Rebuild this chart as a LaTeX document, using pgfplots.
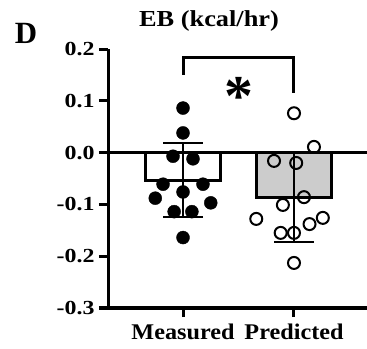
\documentclass[border=0pt]{standalone}
\usepackage{fontspec}
\setmainfont{Liberation Serif}
\usepackage{graphicx}
\usepackage{pgfplots}
\pgfplotsset{compat=1.18}
\begin{document}
\begin{tikzpicture}
\path[use as bounding box] (0,0) rectangle (367bp,349bp);
\node[font=\fontsize{31}{31}\selectfont\bfseries] at (26bp,316bp) {D};
\node[anchor=base, font=\fontsize{23}{23}\selectfont\bfseries] at (209bp,322bp) {\scalebox{1.15}[1]{EB (kcal/hr)}};
\begin{axis}[
  at={(108bp,41bp)}, anchor=south west,
  scale only axis, width=259bp, height=259bp,
  xmin=-0.676, xmax=1.658, ymin=-0.3, ymax=0.2,
  clip=false,
  axis x line=bottom, axis y line=left,
  axis line style={-, line width=3bp},
  tick align=outside, major tick length=9bp,
  tick style={line width=3bp, black},
  ytick={-0.3,-0.2,-0.1,0,0.1,0.2},
  yticklabels={\scalebox{1.2}[1]{-0.3},\scalebox{1.2}[1]{-0.2},\scalebox{1.2}[1]{-0.1},\scalebox{1.2}[1]{0.0},\scalebox{1.2}[1]{0.1},\scalebox{1.2}[1]{0.2}},
  yticklabel style={font=\fontsize{20}{20}\selectfont\bfseries, xshift=-1bp},
  xtick={0,1},
  xticklabels={\scalebox{1.08}[1]{Measured},\scalebox{1.08}[1]{Predicted}},
  xticklabel style={font=\fontsize{22.5}{22.5}\selectfont\bfseries, yshift=-3bp},
]
% bars
\addplot[ybar, bar shift=0pt, bar width=0.68, fill=white, draw=black, line width=3bp,
  error bars/.cd, y dir=both, y explicit,
  error bar style={line width=2bp, black},
  error mark options={rotate=90, mark size=20bp, line width=2bp, black}]
  coordinates {(0,-0.053) +- (0,0.071)};
\addplot[ybar, bar shift=0pt, bar width=0.68, fill=black!20, draw=black, line width=3bp,
  error bars/.cd, y dir=both, y explicit,
  error bar style={line width=2bp, black},
  error mark options={rotate=90, mark size=20bp, line width=2bp, black}]
  coordinates {(1,-0.086) +- (0,0.087)};
% zero line
\addplot[black, line width=3bp] coordinates {(-0.676,0) (1.658,0)};
% measured points
\addplot[only marks, mark=*, mark size=6.5bp, black] coordinates {
(0,0.086) (0,0.038) (-0.09,-0.007) (0.09,-0.012) (-0.18,-0.061) (0.18,-0.061)
(0,-0.076) (-0.25,-0.088) (0.25,-0.097) (-0.08,-0.114) (0.08,-0.114) (0,-0.164)};
% predicted points
\addplot[only marks, mark=o, mark size=6bp, line width=2bp, black] coordinates {
(1,0.076) (1.18,0.011) (0.82,-0.016) (1.02,-0.020) (1.09,-0.086) (0.90,-0.101)
(0.66,-0.128) (1.26,-0.126) (1.14,-0.138) (0.88,-0.155) (1.0,-0.155) (1.0,-0.213)};
% significance bracket
\addplot[black, line width=3bp] coordinates {(0,0.15) (0,0.183) (1,0.183) (1,0.115)};
\node[font=\fontsize{58}{58}\selectfont\bfseries] at (axis cs:0.5,0.108) {*};
\end{axis}
\end{tikzpicture}
\end{document}
